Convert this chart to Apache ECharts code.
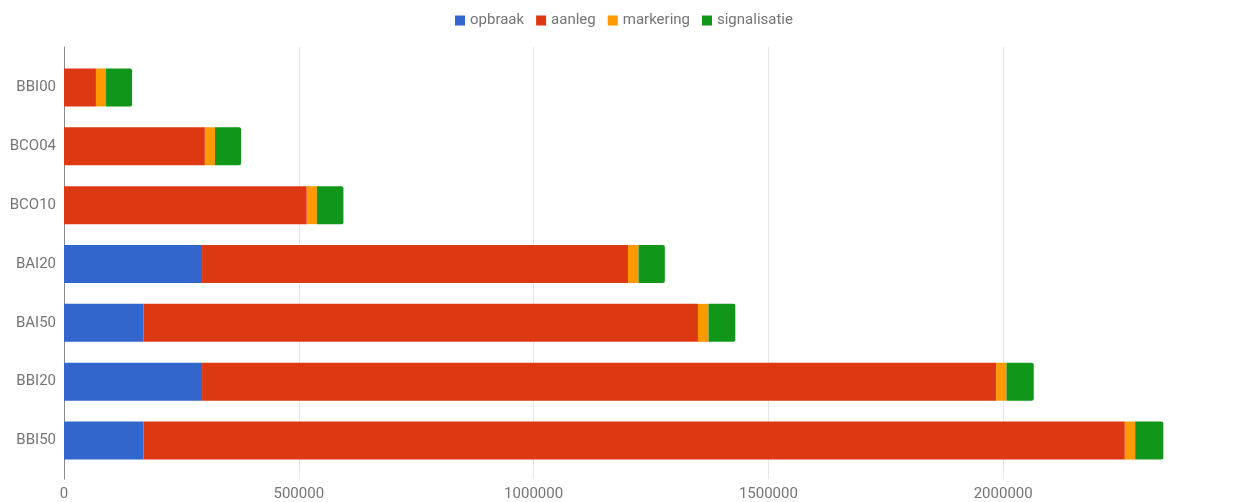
<!DOCTYPE html>
<html>
<head>
<meta charset="utf-8">
<script src="https://cdn.jsdelivr.net/npm/echarts@6/dist/echarts.min.js"></script>
<style>
  html, body { margin: 0; padding: 0; background: #fff; }
  #chart { width: 1238px; height: 502px; }
</style>
</head>
<body>
<div id="chart"></div>
<script>
// Cost breakdown per road type
const categories = ['BBI00', 'BCO04', 'BCO10', 'BAI20', 'BAI50', 'BBI20', 'BBI50'];
const opbraak      = [0, 0, 0, 294000, 169000, 294000, 169000];
const aanleg       = [68000, 300000, 517000, 907000, 1181000, 1691000, 2090000];
const markering    = [21500, 21500, 21500, 22500, 22500, 22000, 22000];
const signalisatie = [55500, 55500, 56500, 56000, 57000, 58000, 60000];
const seriesNames  = ['opbraak', 'aanleg', 'markering', 'signalisatie'];
const colors       = ['#3366cc', '#dc3912', '#ff9900', '#109618'];

const FONT = 'Roboto, "Noto Sans", sans-serif';
const TEXT = '#757575';
const AXIS_MAX = 2500000;
const STEP = 500000;

const chart = echarts.init(document.getElementById('chart'), null, { renderer: 'canvas' });

const seriesData = [opbraak, aanleg, markering, signalisatie];

chart.setOption({
  animation: false,
  color: colors,
  legend: {
    top: 8,
    left: 450,
    itemWidth: 10,
    itemHeight: 10,
    itemGap: 12,
    icon: 'rect',
    data: seriesNames,
    textStyle: { fontFamily: FONT, fontSize: 15, color: TEXT }
  },
  grid: [
    // bars
    { left: 64, right: -1, top: 58, bottom: 32, containLabel: false },
    // frame: gridlines, baseline and tick labels
    { left: 64, right: -1, top: 47, bottom: 23, containLabel: false }
  ],
  xAxis: [
    {
      gridIndex: 0, type: 'value', min: 0, max: AXIS_MAX, interval: STEP,
      show: false
    },
    {
      gridIndex: 1, type: 'value', min: 0, max: AXIS_MAX, interval: STEP,
      axisLine: { show: false },
      axisTick: { show: false },
      splitLine: { show: true, lineStyle: { color: '#e6e6e6', width: 1 } },
      axisLabel: {
        showMaxLabel: false, margin: 8,
        formatter: v => String(v),
        fontFamily: FONT, fontSize: 15, color: TEXT
      }
    }
  ],
  yAxis: [
    {
      gridIndex: 0, type: 'category', data: categories, inverse: true,
      axisLine: { show: false },
      axisTick: { show: false },
      splitLine: { show: false },
      axisLabel: { margin: 8, fontFamily: FONT, fontSize: 15, color: TEXT }
    },
    {
      gridIndex: 1, type: 'value', min: 0, max: 1,
      axisLine: { show: true, lineStyle: { color: '#8a8a8a', width: 1 } },
      axisTick: { show: false },
      axisLabel: { show: false },
      splitLine: { show: false }
    }
  ],
  series: seriesNames.map((name, i) => ({
    name: name,
    type: 'bar',
    stack: 'total',
    xAxisIndex: 0,
    yAxisIndex: 0,
    barWidth: 38,
    data: seriesData[i],
    itemStyle: {
      color: colors[i],
      borderRadius: i === seriesNames.length - 1 ? [0, 2, 2, 0] : 0
    },
    emphasis: { disabled: true }
  }))
});
</script>
</body>
</html>
